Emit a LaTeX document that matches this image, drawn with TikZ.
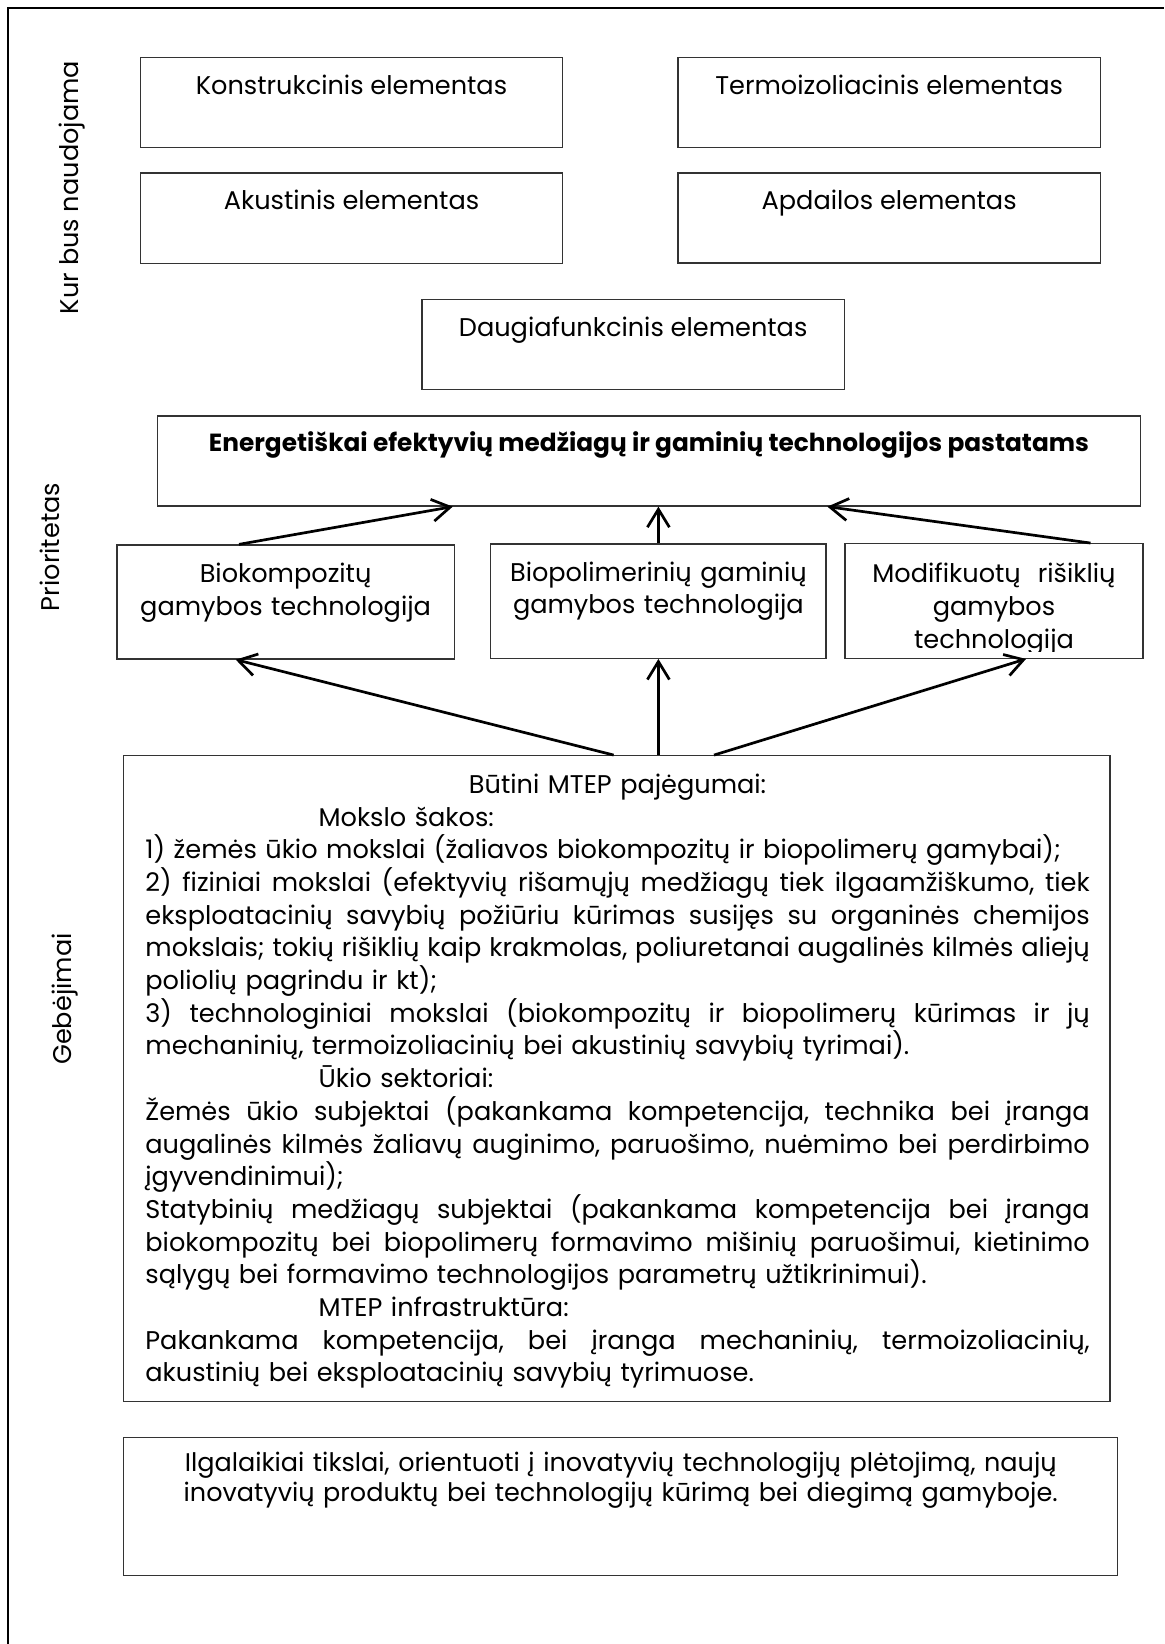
\documentclass[tikz,border=0pt]{standalone}
\usepackage{fontspec}
\setmainfont{Poppins}
\usetikzlibrary{arrows.meta}
\newcommand\txtsize{\fontsize{12.8}{16.35}\selectfont}
\newlength\blockwidth
\setlength\blockwidth{472.2pt}
% one line of a justified block: spaces stretched to the full width
\newcommand\justline[1]{{\frenchspacing
  \spaceskip=\fontdimen2\font plus 1fil minus \fontdimen4\font\relax
  \hbox to\blockwidth{#1}}\par}
% one line set at its natural width
\newcommand\plainline[1]{\hbox{#1}\par}
\tikzset{
  box/.style={draw=black!80, line width=0.65pt, inner sep=0pt},
  lbl/.style={inner sep=0pt, font=\txtsize},
  ctext/.style={lbl, align=center, anchor=base},
  sidelbl/.style={lbl, rotate=90, anchor=center},
  arr/.style={line width=1.35pt, -{Straight Barb[length=9pt,width=11pt,line width=1.35pt]}},
  frame/.style={line width=1pt},
}
\begin{document}
\begin{tikzpicture}[x=0.5pt, y=-0.5pt]
\useasboundingbox (0,0) rectangle (1164,1644);

% outer frame (top and left edges)
\draw[frame] (8,1644) -- (8,7.5) -- (1164,7.5);

% side labels
\node[sidelbl] (lab-kur) at (72,187.5) {Kur bus naudojama};
\node[sidelbl] (lab-prio) at (50,547) {Prioritetas};
\node[sidelbl] (lab-geb) at (65,999) {Gebėjimai};

% application boxes
\node[box, minimum width=211.1pt, minimum height=44.8pt] (konstr) at (351.5,102.5) {};
\node[box, minimum width=211.25pt, minimum height=44.8pt] (termo) at (889.15,102.5) {};
\node[box, minimum width=211.1pt, minimum height=45.1pt] (akust) at (351.5,218.15) {};
\node[box, minimum width=211.25pt, minimum height=45pt] (apdail) at (889.15,218.1) {};
\node[box, minimum width=211.15pt, minimum height=45pt] (daugia) at (633.15,344.3) {};

\node[ctext] (konstr-t) at ([yshift=-18.7pt]konstr.north) {Konstrukcinis elementas};
\node[ctext] (termo-t) at ([yshift=-18.7pt]termo.north) {Termoizoliacinis elementas};
\node[ctext] (akust-t) at ([yshift=-18.7pt]akust.north) {Akustinis elementas};
\node[ctext] (apdail-t) at ([yshift=-18.7pt]apdail.north) {Apdailos elementas};
\node[ctext] (daugia-t) at ([yshift=-18.7pt]daugia.north) {Daugiafunkcinis elementas};

% priority
\node[box, minimum width=491.25pt, minimum height=45pt] (energ) at (648.95,461) {};
\node[ctext, font=\fontsize{12.4}{15}\selectfont\bfseries] (energ-t) at ([yshift=-17.9pt]energ.north) {Energetiškai efektyvių medžiagų ir gaminių technologijos pastatams};

\node[box, minimum width=168.6pt, minimum height=57pt] (bioko) at (285.6,602) {};
\node[box, minimum width=167.6pt, minimum height=57.15pt] (biopol) at (658.4,601.15) {};
\node[box, minimum width=149pt, minimum height=57.3pt] (modif) at (994,601) {};

\node[ctext, text width=165pt] (bioko-t) at ([yshift=-19.1pt]bioko.north) {Biokompozitų\\gamybos technologija};
\node[ctext, text width=165pt] (biopol-t) at ([yshift=-18.9pt]biopol.north) {Biopolimerinių gaminių\\gamybos technologija};
\begin{scope}
  \clip (modif.north west) rectangle ([yshift=3.6pt]modif.south east);
  \node[ctext, text width=147pt] (modif-t) at ([yshift=-19.8pt]modif.north) {Modifikuotų~ rišiklių\\gamybos\\technologija};
\end{scope}

% capabilities
\node[box, minimum width=493.15pt, minimum height=323pt] (mtep) at (616.85,1078.7) {};
\node[lbl, text width=\blockwidth, anchor=base west] (mtep-t) at (145,793.3) {%
\hbox to\blockwidth{\hfil Būtini MTEP pajėgumai:\hfil}\par
\plainline{\hspace*{86.6pt}Mokslo šakos:}
\plainline{1) žemės ūkio mokslai (žaliavos biokompozitų ir biopolimerų gamybai);}
\justline{2) fiziniai mokslai (efektyvių rišamųjų medžiagų tiek ilgaamžiškumo, tiek}
\justline{eksploatacinių savybių požiūriu kūrimas susijęs su organinės chemijos}
\justline{mokslais; tokių rišiklių kaip krakmolas, poliuretanai augalinės kilmės aliejų}
\plainline{poliolių pagrindu ir kt);}
\justline{3) technologiniai mokslai (biokompozitų ir biopolimerų kūrimas ir jų}
\plainline{mechaninių, termoizoliacinių bei akustinių savybių tyrimai).}
\plainline{\hspace*{86.6pt}Ūkio sektoriai:}
\justline{Žemės ūkio subjektai (pakankama kompetencija, technika bei įranga}
\justline{augalinės kilmės žaliavų auginimo, paruošimo, nuėmimo bei perdirbimo}
\plainline{įgyvendinimui);}
\justline{Statybinių medžiagų subjektai (pakankama kompetencija bei įranga}
\justline{biokompozitų bei biopolimerų formavimo mišinių paruošimui, kietinimo}
\plainline{sąlygų bei formavimo technologijos parametrų užtikrinimui).}
\plainline{\hspace*{86.6pt}MTEP infrastruktūra:}
\justline{Pakankama kompetencija, bei įranga mechaninių, termoizoliacinių,}
\plainline{akustinių bei eksploatacinių savybių tyrimuose.}};

% long-term goals
\node[box, minimum width=497pt, minimum height=69.2pt] (ilgal) at (620.7,1506.5) {};
\node[ctext, text width=490pt, font=\fontsize{12.75}{15}\selectfont] (ilgal-t) at ([yshift=-17.3pt]ilgal.north) {Ilgalaikiai tikslai, orientuoti į inovatyvių technologijų plėtojimą, naujų\\inovatyvių produktų bei technologijų kūrimą bei diegimą gamyboje.};

% connectors
\draw[arr] ([xshift=-23.3pt]bioko.north) -- ([xshift=-98.1pt]energ.south);
\draw[arr] (biopol.north) -- (biopol.north |- energ.south);
\draw[arr] ([xshift=48.25pt]modif.north) -- ([xshift=89.2pt]energ.south);
\draw[arr] ([xshift=-1.6pt]mtep.north) -- ([xshift=-24.95pt]bioko.south);
\draw[arr] (biopol.south |- mtep.north) -- (biopol.south);
\draw[arr] ([xshift=48.6pt]mtep.north) -- ([xshift=16pt]modif.south);
\end{tikzpicture}
\end{document}
